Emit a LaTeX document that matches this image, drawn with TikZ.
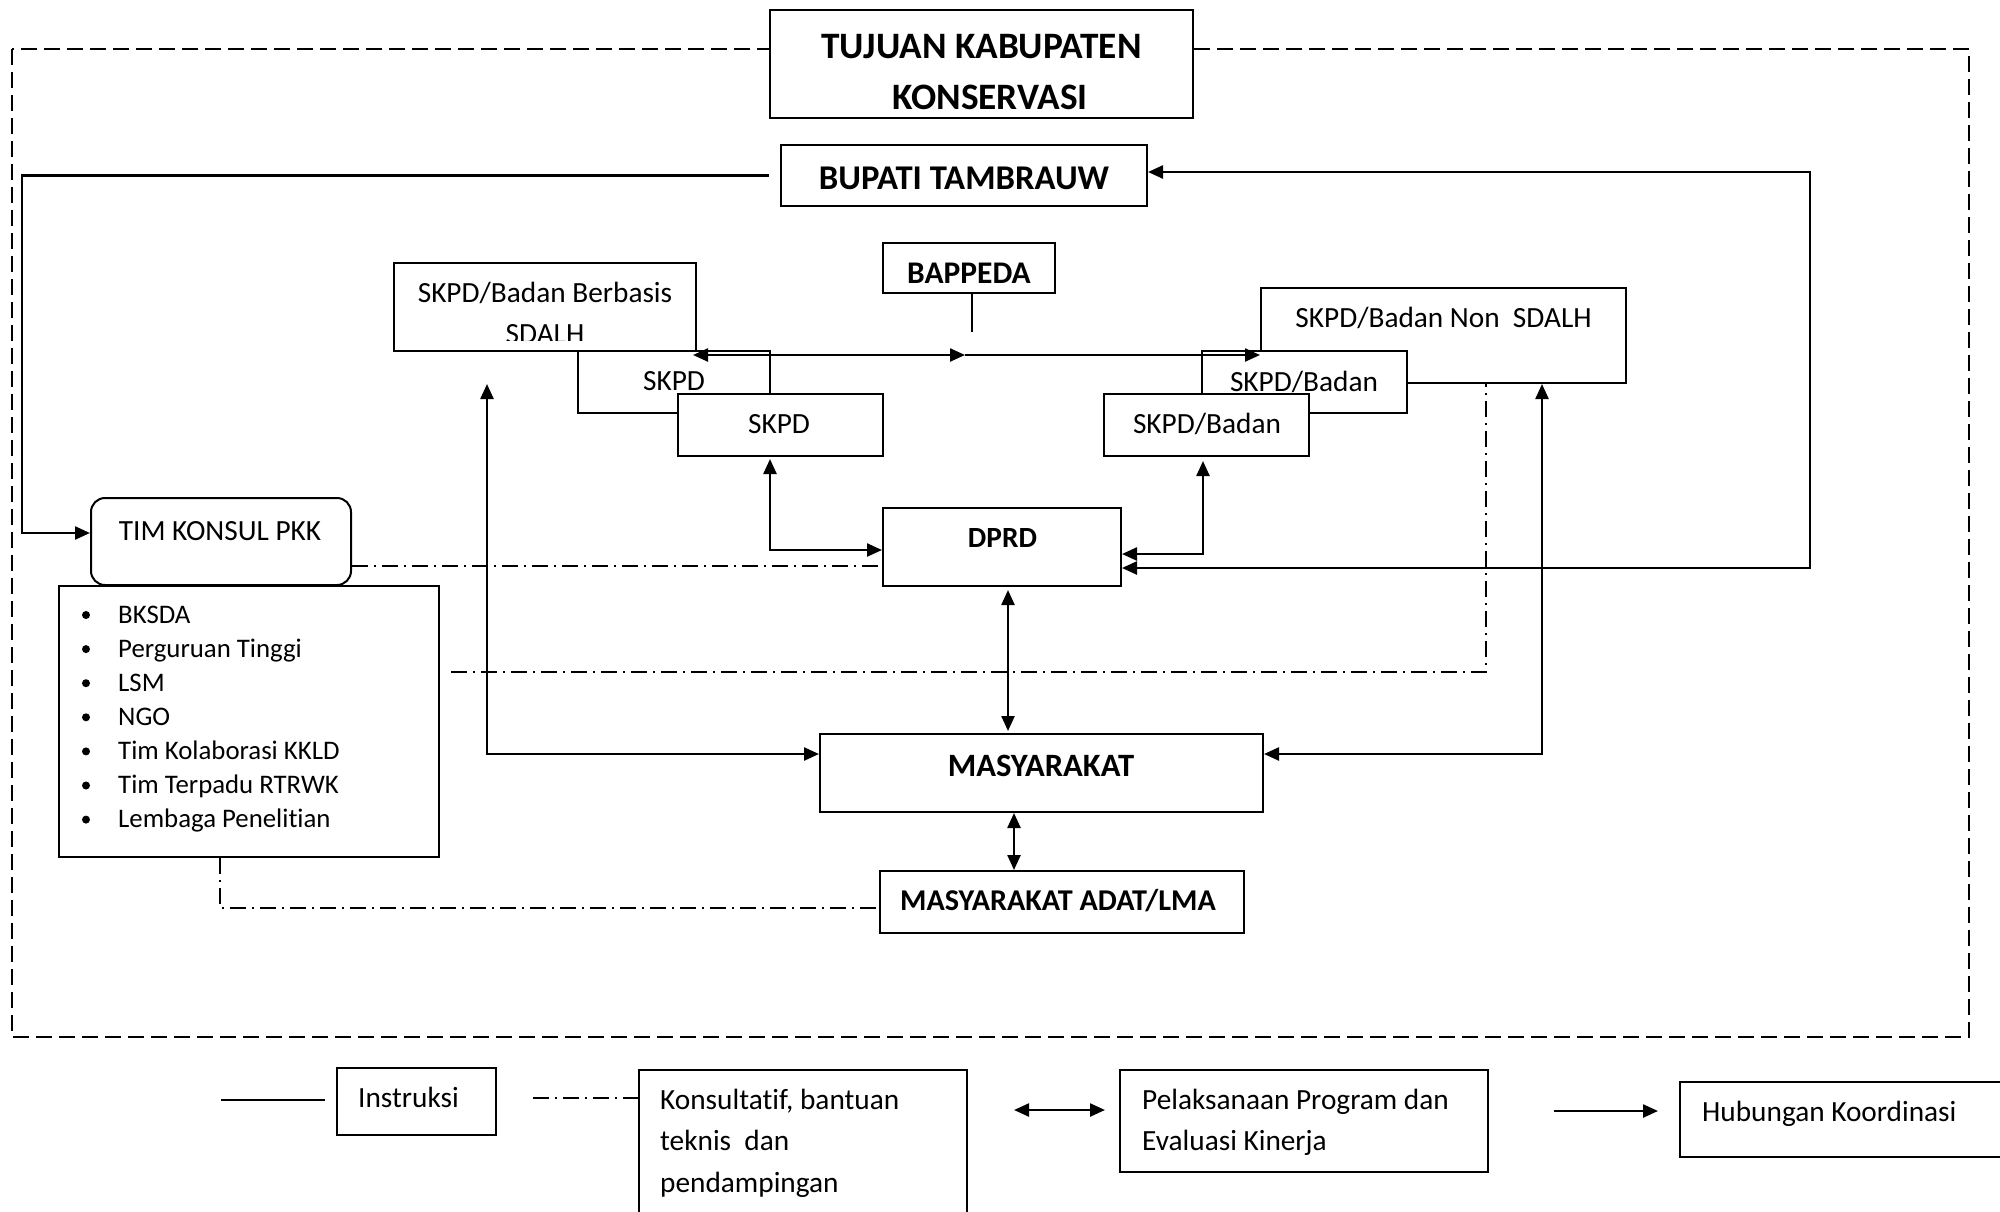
\documentclass[tikz,border=0pt]{standalone}
\usepackage{fontspec}
\setmainfont{Carlito}[Ligatures=NoCommon]
\usetikzlibrary{arrows.meta}
\newcommand\szA{\fontsize{29.3}{35}\selectfont}
\newcommand\szB{\fontsize{31.5}{37}\selectfont\bfseries}
\newcommand\szC{\fontsize{34.7}{41}\selectfont\bfseries}
\newcommand\szD{\fontsize{37.3}{44}\selectfont\bfseries}
\newcommand\szE{\fontsize{29.3}{35}\selectfont\bfseries}
\newcommand\szF{\fontsize{26.8}{32}\selectfont}
\newcommand\szG{\fontsize{32.6}{39}\selectfont\bfseries}
\newcommand\szH{\fontsize{30.2}{36}\selectfont\bfseries}
\begin{document}
\begin{tikzpicture}[x=1pt,y=-1pt,
  box/.style={draw, line width=2pt, fill=white, inner sep=0pt, rectangle},
  conn/.style={line width=2.4pt},
  ar/.style={-{Triangle[length=15pt,width=13pt]}},
  dar/.style={{Triangle[length=15pt,width=13pt]}-{Triangle[length=15pt,width=13pt]}},
  dd/.style={line width=2pt, dash pattern=on 16pt off 6pt on 2pt off 6pt},
  outer/.style={line width=2pt, dash pattern=on 16pt off 7pt},
  lbl/.style={anchor=base, inner sep=0pt, font=\szA},
  bul/.style={circle, fill, inner sep=0pt, minimum size=8pt}]

\useasboundingbox (0,0) rectangle (2000,1211);
\clip (0,0) rectangle (2000,1211);

% outer dashed frame
\draw[outer] (12,49) rectangle (1969,1037);

% boxes
\node[box, minimum width=423pt, minimum height=108pt] (title) at (981.5,64) {};
\node[box, minimum width=366pt, minimum height=61pt] (bupati) at (964,175.5) {};
\node[box, minimum width=172pt, minimum height=50pt] (bappeda) at (969,268) {};
\node[box, minimum width=302pt, minimum height=88pt] (sdalhA) at (545,307) {};
\node[box, minimum width=192pt, minimum height=62pt] (skpdA2) at (674,382) {};
\node[box, minimum width=205pt, minimum height=62pt] (skpdA1) at (780.5,425) {};
\node[box, minimum width=365pt, minimum height=95pt] (sdalhB) at (1443.5,335.5) {};
\node[box, minimum width=205pt, minimum height=62pt] (skpdB2) at (1304.5,382) {};
\node[box, minimum width=205pt, minimum height=62pt] (skpdB1) at (1206.5,425) {};
\node[box, minimum width=238pt, minimum height=78pt] (dprd) at (1002,547) {};
\node[box, minimum width=380pt, minimum height=271pt] (list) at (249,721.5) {};
\node[box, rounded corners=14pt, minimum width=260pt, minimum height=87pt] (timkonsul) at (221,541.5) {};
\node[box, minimum width=443pt, minimum height=78pt] (masy) at (1041.5,773) {};
\node[box, minimum width=364pt, minimum height=62pt] (adat) at (1062,902) {};
% legend boxes
\node[box, minimum width=159pt, minimum height=67pt] (instr) at (416.5,1101.5) {};
\node[box, minimum width=328pt, minimum height=170pt] (kons) at (803,1155) {};
\node[box, minimum width=368pt, minimum height=102pt] (pel) at (1304,1121) {};
\node[box, minimum width=340pt, minimum height=75pt] (hub) at (1850,1119.5) {};

% helper levels
\coordinate (yK) at (0,533);
\coordinate (yBp) at (0,172);
\coordinate (yD1) at (0,568);
\coordinate (yD2) at (0,554);
\coordinate (yD3) at (0,550);
\coordinate (yDD) at (0,566);
\coordinate (yH) at (0,355);
\coordinate (yM) at (0,754);
\coordinate (yA) at (0,908);
\coordinate (hm) at (965,355);
\coordinate (bpEnd) at (972,332);
\coordinate (ddL) at (451,672);
\coordinate (lv) at (487,384);

% connectors
\draw[conn, ar] ([xshift=-11pt]bupati.west) -| (22,533) -- (timkonsul.west |- yK);
\draw[conn, dar] (dprd.east |- yD1) -- (1810,568) -- (1810,172) -- (bupati.east |- yBp);
\draw[line width=1.2pt] ([xshift=3pt]bappeda.south) -- (bpEnd);
\draw[conn, dar] ([xshift=-4pt]sdalhA.east |- yH) -- (hm);
\draw[conn, ar] (hm) -- (sdalhB.west |- yH);
\draw[conn, dar] ([xshift=-10.5pt, yshift=-2pt]skpdA1.south) |- (dprd.west |- yD3);
\draw[conn, dar] ([xshift=-3.5pt, yshift=-4pt]skpdB1.south) |- (dprd.east |- yD2);
\draw[dd] (timkonsul.east |- yDD) -- (dprd.west |- yDD);
\draw[dd] (ddL) -| ([xshift=42.5pt]sdalhB.south);
\draw[dd] ([xshift=-29pt]list.south) |- (adat.west |- yA);
\draw[conn, dar] (lv) |- (masy.west |- yM);
\draw[conn, dar] ([xshift=98.5pt]sdalhB.south) |- (masy.east |- yM);
\draw[conn, dar] ([xshift=6pt, yshift=-3pt]dprd.south) -- ([xshift=-33.5pt, yshift=2pt]masy.north);
\draw[conn, dar] ([xshift=-27.5pt]masy.south) -- ([xshift=-48pt]adat.north);

% legend lines
\coordinate (s1) at (221,1100);
\coordinate (s2) at (325,1100);
\coordinate (d1) at (533,1098);
\coordinate (p1) at (1014,1110);
\coordinate (p2) at (1105,1110);
\coordinate (h1) at (1554,1111);
\coordinate (h2) at (1658,1111);
\draw[line width=2pt] (s1) -- (s2);
\draw[dd] (d1) -- (kons.west |- d1);
\draw[conn, dar] (p1) -- (p2);
\draw[conn, ar] (h1) -- (h2);

% texts
\node[lbl, font=\szD] (t1) at (981.5,58) {TUJUAN KABUPATEN};
\node[lbl, font=\szD] (t2) at (990,109) {KONSERVASI};
\node[lbl, font=\szC] (tbu) at (964,189) {BUPATI TAMBRAUW};
\node[lbl, font=\szB] (tbp) at (969,283) {BAPPEDA};
\node[lbl] (tsa1) at (545,302) {SKPD/Badan Berbasis};
\begin{scope}
\clip (394,263) rectangle (696,340);
\node[lbl] (tsa2) at (545,343) {SDALH};
\end{scope}
\node[lbl] (tka2) at (674,390) {SKPD};
\node[lbl] (tka1) at (779,433) {SKPD};
\node[lbl] (tsb) at (1443.5,327) {SKPD/Badan Non\ \ SDALH};
\node[lbl] (tkb2) at (1304,391) {SKPD/Badan};
\node[lbl] (tkb1) at (1207,433) {SKPD/Badan};
\node[lbl, font=\szE] (tdp) at (1002.5,547) {DPRD};
\node[lbl] (ttk) at (220,540) {TIM KONSUL PKK};
\node[lbl, font=\szG] (tms) at (1041,776) {MASYARAKAT};
\node[lbl, font=\szH] (tad) at (1058,910) {MASYARAKAT ADAT/LMA};

% list
\node[bul] (b1) at (86,615) {};
\node[bul] (b2) at (86,649.1) {};
\node[bul] (b3) at (86,683.2) {};
\node[bul] (b4) at (86,717.3) {};
\node[bul] (b5) at (86,751.4) {};
\node[bul] (b6) at (86,785.5) {};
\node[bul] (b7) at (86,819.6) {};
\node[lbl, font=\szF, anchor=base west] (l1) at (118,623) {BKSDA};
\node[lbl, font=\szF, anchor=base west] (l2) at (118,657.1) {Perguruan Tinggi};
\node[lbl, font=\szF, anchor=base west] (l3) at (118,691.2) {LSM};
\node[lbl, font=\szF, anchor=base west] (l4) at (118,725.3) {NGO};
\node[lbl, font=\szF, anchor=base west] (l5) at (118,759.4) {Tim Kolaborasi KKLD};
\node[lbl, font=\szF, anchor=base west] (l6) at (118,793.5) {Tim Terpadu RTRWK};
\node[lbl, font=\szF, anchor=base west] (l7) at (118,827.6) {Lembaga Penelit\kern0pt ian};

% legend texts
\node[lbl, anchor=base west] (lg1) at (358,1107) {Instruksi};
\node[lbl, anchor=base west] (lg2a) at (660,1109) {Konsultat\kern0pt if, bantuan};
\node[lbl, anchor=base west] (lg2b) at (660,1150) {teknis\ \ dan};
\node[lbl, anchor=base west] (lg2c) at (660,1192) {pendampingan};
\node[lbl, anchor=base west] (lg3a) at (1142,1109) {Pelaksanaan Program dan};
\node[lbl, anchor=base west] (lg3b) at (1142,1150) {Evaluasi Kinerja};
\node[lbl, anchor=base west] (lg4) at (1702,1121) {Hubungan Koordinasi};
\end{tikzpicture}
\end{document}
